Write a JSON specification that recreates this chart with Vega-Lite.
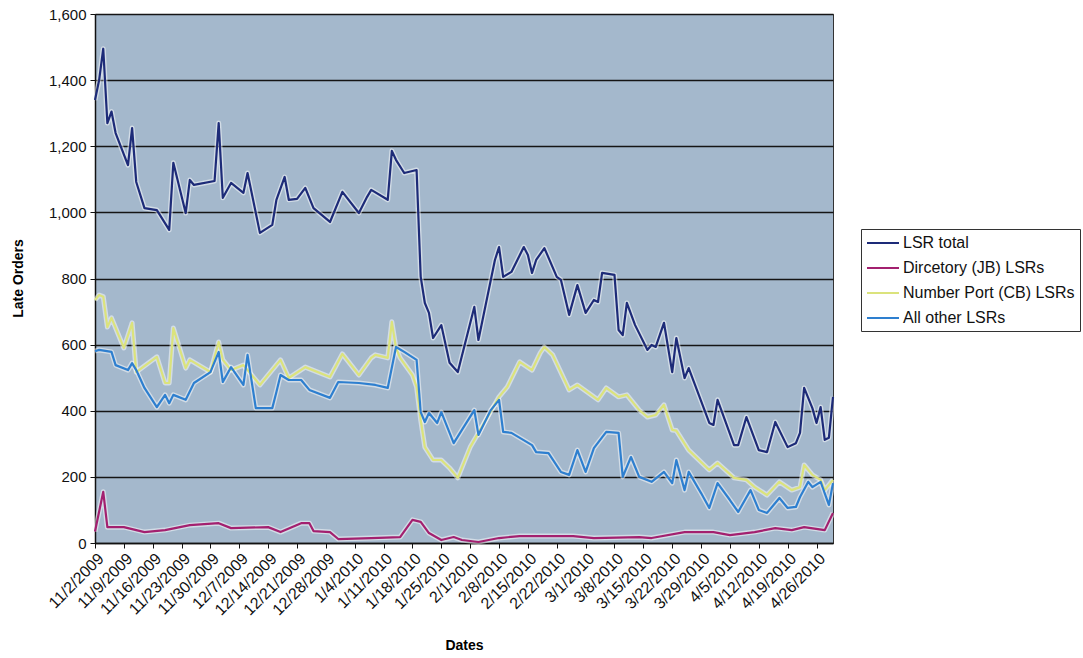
{
  "$schema": "https://vega.github.io/schema/vega-lite/v6.json",
  "width": 738,
  "height": 529,
  "autosize": "none",
  "padding": {"left": 95, "top": 14, "right": 250, "bottom": 115},
  "background": "white",
  "config": {
    "font": "Liberation Sans",
    "view": {"fill": "#a4b8cc", "stroke": "#333", "strokeWidth": 1}
  },
  "data": {
    "values": [
      {"d":"2009/11/02","s":"LSR total","v":1340},
      {"d":"2009/11/03","s":"LSR total","v":1400},
      {"d":"2009/11/04","s":"LSR total","v":1495},
      {"d":"2009/11/05","s":"LSR total","v":1270},
      {"d":"2009/11/06","s":"LSR total","v":1305},
      {"d":"2009/11/07","s":"LSR total","v":1240},
      {"d":"2009/11/10","s":"LSR total","v":1143},
      {"d":"2009/11/11","s":"LSR total","v":1255},
      {"d":"2009/11/12","s":"LSR total","v":1092},
      {"d":"2009/11/14","s":"LSR total","v":1013},
      {"d":"2009/11/17","s":"LSR total","v":1007},
      {"d":"2009/11/20","s":"LSR total","v":947},
      {"d":"2009/11/21","s":"LSR total","v":1150},
      {"d":"2009/11/24","s":"LSR total","v":998},
      {"d":"2009/11/25","s":"LSR total","v":1098},
      {"d":"2009/11/26","s":"LSR total","v":1083},
      {"d":"2009/12/01","s":"LSR total","v":1095},
      {"d":"2009/12/02","s":"LSR total","v":1270},
      {"d":"2009/12/03","s":"LSR total","v":1044},
      {"d":"2009/12/05","s":"LSR total","v":1089},
      {"d":"2009/12/08","s":"LSR total","v":1059},
      {"d":"2009/12/09","s":"LSR total","v":1119},
      {"d":"2009/12/12","s":"LSR total","v":938},
      {"d":"2009/12/15","s":"LSR total","v":962},
      {"d":"2009/12/16","s":"LSR total","v":1038},
      {"d":"2009/12/18","s":"LSR total","v":1107},
      {"d":"2009/12/19","s":"LSR total","v":1038},
      {"d":"2009/12/21","s":"LSR total","v":1041},
      {"d":"2009/12/23","s":"LSR total","v":1074},
      {"d":"2009/12/25","s":"LSR total","v":1013},
      {"d":"2009/12/29","s":"LSR total","v":971},
      {"d":"2010/01/01","s":"LSR total","v":1062},
      {"d":"2010/01/05","s":"LSR total","v":998},
      {"d":"2010/01/07","s":"LSR total","v":1047},
      {"d":"2010/01/08","s":"LSR total","v":1068},
      {"d":"2010/01/12","s":"LSR total","v":1038},
      {"d":"2010/01/13","s":"LSR total","v":1186},
      {"d":"2010/01/14","s":"LSR total","v":1159},
      {"d":"2010/01/16","s":"LSR total","v":1119},
      {"d":"2010/01/19","s":"LSR total","v":1128},
      {"d":"2010/01/20","s":"LSR total","v":805},
      {"d":"2010/01/21","s":"LSR total","v":726},
      {"d":"2010/01/22","s":"LSR total","v":696},
      {"d":"2010/01/23","s":"LSR total","v":620},
      {"d":"2010/01/25","s":"LSR total","v":659},
      {"d":"2010/01/27","s":"LSR total","v":545},
      {"d":"2010/01/29","s":"LSR total","v":517},
      {"d":"2010/02/02","s":"LSR total","v":714},
      {"d":"2010/02/03","s":"LSR total","v":614},
      {"d":"2010/02/07","s":"LSR total","v":856},
      {"d":"2010/02/08","s":"LSR total","v":895},
      {"d":"2010/02/09","s":"LSR total","v":805},
      {"d":"2010/02/11","s":"LSR total","v":820},
      {"d":"2010/02/14","s":"LSR total","v":895},
      {"d":"2010/02/15","s":"LSR total","v":871},
      {"d":"2010/02/16","s":"LSR total","v":817},
      {"d":"2010/02/17","s":"LSR total","v":856},
      {"d":"2010/02/19","s":"LSR total","v":892},
      {"d":"2010/02/22","s":"LSR total","v":805},
      {"d":"2010/02/23","s":"LSR total","v":796},
      {"d":"2010/02/25","s":"LSR total","v":690},
      {"d":"2010/02/27","s":"LSR total","v":780},
      {"d":"2010/03/01","s":"LSR total","v":696},
      {"d":"2010/03/03","s":"LSR total","v":735},
      {"d":"2010/03/04","s":"LSR total","v":729},
      {"d":"2010/03/05","s":"LSR total","v":817},
      {"d":"2010/03/08","s":"LSR total","v":811},
      {"d":"2010/03/09","s":"LSR total","v":644},
      {"d":"2010/03/10","s":"LSR total","v":629},
      {"d":"2010/03/11","s":"LSR total","v":726},
      {"d":"2010/03/13","s":"LSR total","v":659},
      {"d":"2010/03/16","s":"LSR total","v":584},
      {"d":"2010/03/17","s":"LSR total","v":599},
      {"d":"2010/03/18","s":"LSR total","v":593},
      {"d":"2010/03/20","s":"LSR total","v":666},
      {"d":"2010/03/22","s":"LSR total","v":517},
      {"d":"2010/03/23","s":"LSR total","v":620},
      {"d":"2010/03/25","s":"LSR total","v":499},
      {"d":"2010/03/26","s":"LSR total","v":529},
      {"d":"2010/03/31","s":"LSR total","v":363},
      {"d":"2010/04/01","s":"LSR total","v":357},
      {"d":"2010/04/02","s":"LSR total","v":433},
      {"d":"2010/04/06","s":"LSR total","v":296},
      {"d":"2010/04/07","s":"LSR total","v":296},
      {"d":"2010/04/09","s":"LSR total","v":381},
      {"d":"2010/04/12","s":"LSR total","v":281},
      {"d":"2010/04/14","s":"LSR total","v":275},
      {"d":"2010/04/16","s":"LSR total","v":366},
      {"d":"2010/04/19","s":"LSR total","v":290},
      {"d":"2010/04/21","s":"LSR total","v":302},
      {"d":"2010/04/22","s":"LSR total","v":333},
      {"d":"2010/04/23","s":"LSR total","v":469},
      {"d":"2010/04/25","s":"LSR total","v":408},
      {"d":"2010/04/26","s":"LSR total","v":363},
      {"d":"2010/04/27","s":"LSR total","v":411},
      {"d":"2010/04/28","s":"LSR total","v":312},
      {"d":"2010/04/29","s":"LSR total","v":318},
      {"d":"2010/04/30","s":"LSR total","v":442},

      {"d":"2009/11/02","s":"Dircetory (JB) LSRs","v":35},
      {"d":"2009/11/04","s":"Dircetory (JB) LSRs","v":155},
      {"d":"2009/11/05","s":"Dircetory (JB) LSRs","v":48},
      {"d":"2009/11/09","s":"Dircetory (JB) LSRs","v":48},
      {"d":"2009/11/14","s":"Dircetory (JB) LSRs","v":33},
      {"d":"2009/11/19","s":"Dircetory (JB) LSRs","v":39},
      {"d":"2009/11/25","s":"Dircetory (JB) LSRs","v":54},
      {"d":"2009/12/02","s":"Dircetory (JB) LSRs","v":60},
      {"d":"2009/12/05","s":"Dircetory (JB) LSRs","v":45},
      {"d":"2009/12/14","s":"Dircetory (JB) LSRs","v":48},
      {"d":"2009/12/17","s":"Dircetory (JB) LSRs","v":33},
      {"d":"2009/12/22","s":"Dircetory (JB) LSRs","v":60},
      {"d":"2009/12/24","s":"Dircetory (JB) LSRs","v":60},
      {"d":"2009/12/25","s":"Dircetory (JB) LSRs","v":36},
      {"d":"2009/12/29","s":"Dircetory (JB) LSRs","v":33},
      {"d":"2009/12/31","s":"Dircetory (JB) LSRs","v":12},
      {"d":"2010/01/08","s":"Dircetory (JB) LSRs","v":15},
      {"d":"2010/01/15","s":"Dircetory (JB) LSRs","v":18},
      {"d":"2010/01/18","s":"Dircetory (JB) LSRs","v":70},
      {"d":"2010/01/20","s":"Dircetory (JB) LSRs","v":64},
      {"d":"2010/01/22","s":"Dircetory (JB) LSRs","v":30},
      {"d":"2010/01/25","s":"Dircetory (JB) LSRs","v":9},
      {"d":"2010/01/28","s":"Dircetory (JB) LSRs","v":18},
      {"d":"2010/01/30","s":"Dircetory (JB) LSRs","v":9},
      {"d":"2010/02/03","s":"Dircetory (JB) LSRs","v":3},
      {"d":"2010/02/08","s":"Dircetory (JB) LSRs","v":15},
      {"d":"2010/02/13","s":"Dircetory (JB) LSRs","v":21},
      {"d":"2010/02/26","s":"Dircetory (JB) LSRs","v":21},
      {"d":"2010/03/03","s":"Dircetory (JB) LSRs","v":15},
      {"d":"2010/03/14","s":"Dircetory (JB) LSRs","v":18},
      {"d":"2010/03/17","s":"Dircetory (JB) LSRs","v":15},
      {"d":"2010/03/25","s":"Dircetory (JB) LSRs","v":33},
      {"d":"2010/04/01","s":"Dircetory (JB) LSRs","v":33},
      {"d":"2010/04/05","s":"Dircetory (JB) LSRs","v":24},
      {"d":"2010/04/11","s":"Dircetory (JB) LSRs","v":33},
      {"d":"2010/04/16","s":"Dircetory (JB) LSRs","v":45},
      {"d":"2010/04/20","s":"Dircetory (JB) LSRs","v":39},
      {"d":"2010/04/23","s":"Dircetory (JB) LSRs","v":48},
      {"d":"2010/04/28","s":"Dircetory (JB) LSRs","v":39},
      {"d":"2010/04/30","s":"Dircetory (JB) LSRs","v":91},

      {"d":"2009/11/02","s":"Number Port (CB) LSRs","v":735},
      {"d":"2009/11/03","s":"Number Port (CB) LSRs","v":750},
      {"d":"2009/11/04","s":"Number Port (CB) LSRs","v":745},
      {"d":"2009/11/05","s":"Number Port (CB) LSRs","v":653},
      {"d":"2009/11/06","s":"Number Port (CB) LSRs","v":681},
      {"d":"2009/11/09","s":"Number Port (CB) LSRs","v":590},
      {"d":"2009/11/11","s":"Number Port (CB) LSRs","v":666},
      {"d":"2009/11/12","s":"Number Port (CB) LSRs","v":517},
      {"d":"2009/11/17","s":"Number Port (CB) LSRs","v":563},
      {"d":"2009/11/19","s":"Number Port (CB) LSRs","v":484},
      {"d":"2009/11/20","s":"Number Port (CB) LSRs","v":484},
      {"d":"2009/11/21","s":"Number Port (CB) LSRs","v":650},
      {"d":"2009/11/24","s":"Number Port (CB) LSRs","v":529},
      {"d":"2009/11/25","s":"Number Port (CB) LSRs","v":554},
      {"d":"2009/11/30","s":"Number Port (CB) LSRs","v":517},
      {"d":"2009/12/02","s":"Number Port (CB) LSRs","v":608},
      {"d":"2009/12/03","s":"Number Port (CB) LSRs","v":554},
      {"d":"2009/12/05","s":"Number Port (CB) LSRs","v":523},
      {"d":"2009/12/08","s":"Number Port (CB) LSRs","v":538},
      {"d":"2009/12/12","s":"Number Port (CB) LSRs","v":478},
      {"d":"2009/12/17","s":"Number Port (CB) LSRs","v":554},
      {"d":"2009/12/19","s":"Number Port (CB) LSRs","v":499},
      {"d":"2009/12/23","s":"Number Port (CB) LSRs","v":532},
      {"d":"2009/12/29","s":"Number Port (CB) LSRs","v":502},
      {"d":"2010/01/01","s":"Number Port (CB) LSRs","v":572},
      {"d":"2010/01/05","s":"Number Port (CB) LSRs","v":508},
      {"d":"2010/01/08","s":"Number Port (CB) LSRs","v":560},
      {"d":"2010/01/09","s":"Number Port (CB) LSRs","v":569},
      {"d":"2010/01/12","s":"Number Port (CB) LSRs","v":560},
      {"d":"2010/01/13","s":"Number Port (CB) LSRs","v":669},
      {"d":"2010/01/14","s":"Number Port (CB) LSRs","v":590},
      {"d":"2010/01/15","s":"Number Port (CB) LSRs","v":560},
      {"d":"2010/01/18","s":"Number Port (CB) LSRs","v":508},
      {"d":"2010/01/19","s":"Number Port (CB) LSRs","v":472},
      {"d":"2010/01/20","s":"Number Port (CB) LSRs","v":372},
      {"d":"2010/01/21","s":"Number Port (CB) LSRs","v":290},
      {"d":"2010/01/23","s":"Number Port (CB) LSRs","v":251},
      {"d":"2010/01/25","s":"Number Port (CB) LSRs","v":251},
      {"d":"2010/01/27","s":"Number Port (CB) LSRs","v":227},
      {"d":"2010/01/29","s":"Number Port (CB) LSRs","v":197},
      {"d":"2010/02/01","s":"Number Port (CB) LSRs","v":290},
      {"d":"2010/02/03","s":"Number Port (CB) LSRs","v":333},
      {"d":"2010/02/08","s":"Number Port (CB) LSRs","v":442},
      {"d":"2010/02/10","s":"Number Port (CB) LSRs","v":472},
      {"d":"2010/02/13","s":"Number Port (CB) LSRs","v":548},
      {"d":"2010/02/16","s":"Number Port (CB) LSRs","v":523},
      {"d":"2010/02/18","s":"Number Port (CB) LSRs","v":575},
      {"d":"2010/02/19","s":"Number Port (CB) LSRs","v":593},
      {"d":"2010/02/21","s":"Number Port (CB) LSRs","v":569},
      {"d":"2010/02/25","s":"Number Port (CB) LSRs","v":463},
      {"d":"2010/02/27","s":"Number Port (CB) LSRs","v":478},
      {"d":"2010/03/04","s":"Number Port (CB) LSRs","v":433},
      {"d":"2010/03/06","s":"Number Port (CB) LSRs","v":469},
      {"d":"2010/03/09","s":"Number Port (CB) LSRs","v":442},
      {"d":"2010/03/11","s":"Number Port (CB) LSRs","v":448},
      {"d":"2010/03/14","s":"Number Port (CB) LSRs","v":402},
      {"d":"2010/03/16","s":"Number Port (CB) LSRs","v":381},
      {"d":"2010/03/18","s":"Number Port (CB) LSRs","v":387},
      {"d":"2010/03/20","s":"Number Port (CB) LSRs","v":418},
      {"d":"2010/03/22","s":"Number Port (CB) LSRs","v":342},
      {"d":"2010/03/23","s":"Number Port (CB) LSRs","v":340},
      {"d":"2010/03/26","s":"Number Port (CB) LSRs","v":281},
      {"d":"2010/03/31","s":"Number Port (CB) LSRs","v":221},
      {"d":"2010/04/02","s":"Number Port (CB) LSRs","v":242},
      {"d":"2010/04/06","s":"Number Port (CB) LSRs","v":197},
      {"d":"2010/04/09","s":"Number Port (CB) LSRs","v":191},
      {"d":"2010/04/11","s":"Number Port (CB) LSRs","v":169},
      {"d":"2010/04/14","s":"Number Port (CB) LSRs","v":145},
      {"d":"2010/04/17","s":"Number Port (CB) LSRs","v":185},
      {"d":"2010/04/20","s":"Number Port (CB) LSRs","v":160},
      {"d":"2010/04/22","s":"Number Port (CB) LSRs","v":169},
      {"d":"2010/04/23","s":"Number Port (CB) LSRs","v":236},
      {"d":"2010/04/25","s":"Number Port (CB) LSRs","v":206},
      {"d":"2010/04/27","s":"Number Port (CB) LSRs","v":191},
      {"d":"2010/04/28","s":"Number Port (CB) LSRs","v":160},
      {"d":"2010/04/30","s":"Number Port (CB) LSRs","v":191},

      {"d":"2009/11/02","s":"All other LSRs","v":580},
      {"d":"2009/11/03","s":"All other LSRs","v":584},
      {"d":"2009/11/06","s":"All other LSRs","v":578},
      {"d":"2009/11/07","s":"All other LSRs","v":538},
      {"d":"2009/11/10","s":"All other LSRs","v":523},
      {"d":"2009/11/11","s":"All other LSRs","v":544},
      {"d":"2009/11/12","s":"All other LSRs","v":523},
      {"d":"2009/11/14","s":"All other LSRs","v":469},
      {"d":"2009/11/17","s":"All other LSRs","v":411},
      {"d":"2009/11/19","s":"All other LSRs","v":448},
      {"d":"2009/11/20","s":"All other LSRs","v":423},
      {"d":"2009/11/21","s":"All other LSRs","v":448},
      {"d":"2009/11/24","s":"All other LSRs","v":433},
      {"d":"2009/11/26","s":"All other LSRs","v":484},
      {"d":"2009/11/30","s":"All other LSRs","v":517},
      {"d":"2009/12/02","s":"All other LSRs","v":578},
      {"d":"2009/12/03","s":"All other LSRs","v":487},
      {"d":"2009/12/05","s":"All other LSRs","v":532},
      {"d":"2009/12/08","s":"All other LSRs","v":478},
      {"d":"2009/12/09","s":"All other LSRs","v":569},
      {"d":"2009/12/11","s":"All other LSRs","v":408},
      {"d":"2009/12/15","s":"All other LSRs","v":408},
      {"d":"2009/12/16","s":"All other LSRs","v":457},
      {"d":"2009/12/17","s":"All other LSRs","v":508},
      {"d":"2009/12/19","s":"All other LSRs","v":493},
      {"d":"2009/12/22","s":"All other LSRs","v":493},
      {"d":"2009/12/24","s":"All other LSRs","v":463},
      {"d":"2009/12/29","s":"All other LSRs","v":439},
      {"d":"2009/12/31","s":"All other LSRs","v":487},
      {"d":"2010/01/05","s":"All other LSRs","v":484},
      {"d":"2010/01/09","s":"All other LSRs","v":478},
      {"d":"2010/01/12","s":"All other LSRs","v":469},
      {"d":"2010/01/14","s":"All other LSRs","v":593},
      {"d":"2010/01/16","s":"All other LSRs","v":578},
      {"d":"2010/01/19","s":"All other LSRs","v":554},
      {"d":"2010/01/20","s":"All other LSRs","v":396},
      {"d":"2010/01/21","s":"All other LSRs","v":366},
      {"d":"2010/01/22","s":"All other LSRs","v":393},
      {"d":"2010/01/24","s":"All other LSRs","v":363},
      {"d":"2010/01/25","s":"All other LSRs","v":396},
      {"d":"2010/01/28","s":"All other LSRs","v":302},
      {"d":"2010/01/30","s":"All other LSRs","v":342},
      {"d":"2010/02/02","s":"All other LSRs","v":402},
      {"d":"2010/02/03","s":"All other LSRs","v":327},
      {"d":"2010/02/06","s":"All other LSRs","v":402},
      {"d":"2010/02/08","s":"All other LSRs","v":433},
      {"d":"2010/02/09","s":"All other LSRs","v":336},
      {"d":"2010/02/11","s":"All other LSRs","v":333},
      {"d":"2010/02/16","s":"All other LSRs","v":296},
      {"d":"2010/02/17","s":"All other LSRs","v":275},
      {"d":"2010/02/20","s":"All other LSRs","v":272},
      {"d":"2010/02/23","s":"All other LSRs","v":215},
      {"d":"2010/02/25","s":"All other LSRs","v":206},
      {"d":"2010/02/27","s":"All other LSRs","v":281},
      {"d":"2010/03/01","s":"All other LSRs","v":215},
      {"d":"2010/03/03","s":"All other LSRs","v":287},
      {"d":"2010/03/06","s":"All other LSRs","v":336},
      {"d":"2010/03/09","s":"All other LSRs","v":333},
      {"d":"2010/03/10","s":"All other LSRs","v":200},
      {"d":"2010/03/12","s":"All other LSRs","v":260},
      {"d":"2010/03/14","s":"All other LSRs","v":200},
      {"d":"2010/03/17","s":"All other LSRs","v":185},
      {"d":"2010/03/20","s":"All other LSRs","v":215},
      {"d":"2010/03/22","s":"All other LSRs","v":181},
      {"d":"2010/03/23","s":"All other LSRs","v":251},
      {"d":"2010/03/25","s":"All other LSRs","v":160},
      {"d":"2010/03/26","s":"All other LSRs","v":215},
      {"d":"2010/03/29","s":"All other LSRs","v":151},
      {"d":"2010/03/31","s":"All other LSRs","v":106},
      {"d":"2010/04/02","s":"All other LSRs","v":181},
      {"d":"2010/04/05","s":"All other LSRs","v":130},
      {"d":"2010/04/07","s":"All other LSRs","v":94},
      {"d":"2010/04/10","s":"All other LSRs","v":160},
      {"d":"2010/04/12","s":"All other LSRs","v":100},
      {"d":"2010/04/14","s":"All other LSRs","v":91},
      {"d":"2010/04/17","s":"All other LSRs","v":136},
      {"d":"2010/04/19","s":"All other LSRs","v":106},
      {"d":"2010/04/21","s":"All other LSRs","v":109},
      {"d":"2010/04/22","s":"All other LSRs","v":139},
      {"d":"2010/04/24","s":"All other LSRs","v":185},
      {"d":"2010/04/25","s":"All other LSRs","v":169},
      {"d":"2010/04/27","s":"All other LSRs","v":185},
      {"d":"2010/04/29","s":"All other LSRs","v":115},
      {"d":"2010/04/30","s":"All other LSRs","v":181}
    ]
  },
  "encoding": {
    "x": {
      "field": "d",
      "type": "temporal",
      "scale": {"domain": [{"year": 2009, "month": 11, "date": 2}, {"year": 2010, "month": 4, "date": 30}]},
      "axis": {
        "title": "Dates",
        "titleFontSize": 14,
        "titleFontWeight": "bold",
        "titleX": 369,
        "titleY": 102,
        "titleBaseline": "middle",
        "format": "%-m/%-d/%Y",
        "labelAngle": -45,
        "labelFontSize": 16,
        "labelColor": "#111",
        "labelPadding": 2,
        "labelOverlap": false,
        "labelFlush": false,
        "grid": false,
        "tickSize": 5,
        "tickColor": "#111",
        "domainColor": "#111",
        "domainWidth": 1.5,
        "values": [
          {"year": 2009, "month": 11, "date": 2},
          {"year": 2009, "month": 11, "date": 9},
          {"year": 2009, "month": 11, "date": 16},
          {"year": 2009, "month": 11, "date": 23},
          {"year": 2009, "month": 11, "date": 30},
          {"year": 2009, "month": 12, "date": 7},
          {"year": 2009, "month": 12, "date": 14},
          {"year": 2009, "month": 12, "date": 21},
          {"year": 2009, "month": 12, "date": 28},
          {"year": 2010, "month": 1, "date": 4},
          {"year": 2010, "month": 1, "date": 11},
          {"year": 2010, "month": 1, "date": 18},
          {"year": 2010, "month": 1, "date": 25},
          {"year": 2010, "month": 2, "date": 1},
          {"year": 2010, "month": 2, "date": 8},
          {"year": 2010, "month": 2, "date": 15},
          {"year": 2010, "month": 2, "date": 22},
          {"year": 2010, "month": 3, "date": 1},
          {"year": 2010, "month": 3, "date": 8},
          {"year": 2010, "month": 3, "date": 15},
          {"year": 2010, "month": 3, "date": 22},
          {"year": 2010, "month": 3, "date": 29},
          {"year": 2010, "month": 4, "date": 5},
          {"year": 2010, "month": 4, "date": 12},
          {"year": 2010, "month": 4, "date": 19},
          {"year": 2010, "month": 4, "date": 26}
        ]
      }
    },
    "y": {
      "field": "v",
      "type": "quantitative",
      "scale": {"domain": [0, 1600], "nice": false},
      "axis": {
        "title": "Late Orders",
        "titleFontSize": 14,
        "titleFontWeight": "bold",
        "titleX": -77,
        "titleY": 264,
        "titleBaseline": "middle",
        "values": [0, 200, 400, 600, 800, 1000, 1200, 1400, 1600],
        "format": ",d",
        "labelFontSize": 15,
        "labelColor": "#111",
        "labelPadding": 4,
        "tickSize": 5,
        "tickColor": "#111",
        "domainColor": "#111",
        "domainWidth": 1.5,
        "grid": true,
        "gridColor": "#151515",
        "gridWidth": 1.5
      }
    }
  },
  "layer": [
    {
      "mark": {"type": "line", "stroke": "white", "strokeWidth": 5, "opacity": 0.5, "strokeJoin": "round"},
      "encoding": {"detail": {"field": "s"}}
    },
    {
      "mark": {"type": "line", "strokeWidth": 2.2, "strokeJoin": "round"},
      "encoding": {
        "color": {
          "field": "s",
          "type": "nominal",
          "scale": {
            "domain": ["LSR total", "Dircetory (JB) LSRs", "Number Port (CB) LSRs", "All other LSRs"],
            "range": ["#1d2b78", "#a3206f", "#dbe37c", "#2e7fcf"]
          },
          "legend": {
            "title": null,
            "orient": "none",
            "legendX": 766,
            "legendY": 215,
            "strokeColor": "#333",
            "fillColor": "white",
            "padding": 5,
            "symbolType": "M-1,0H3",
            "symbolSize": 256,
            "symbolStrokeWidth": 2,
            "labelOffset": 19,
            "labelFontSize": 16,
            "labelColor": "#111",
            "rowPadding": 8,
            "labelLimit": 300
          }
        }
      }
    }
  ]
}
